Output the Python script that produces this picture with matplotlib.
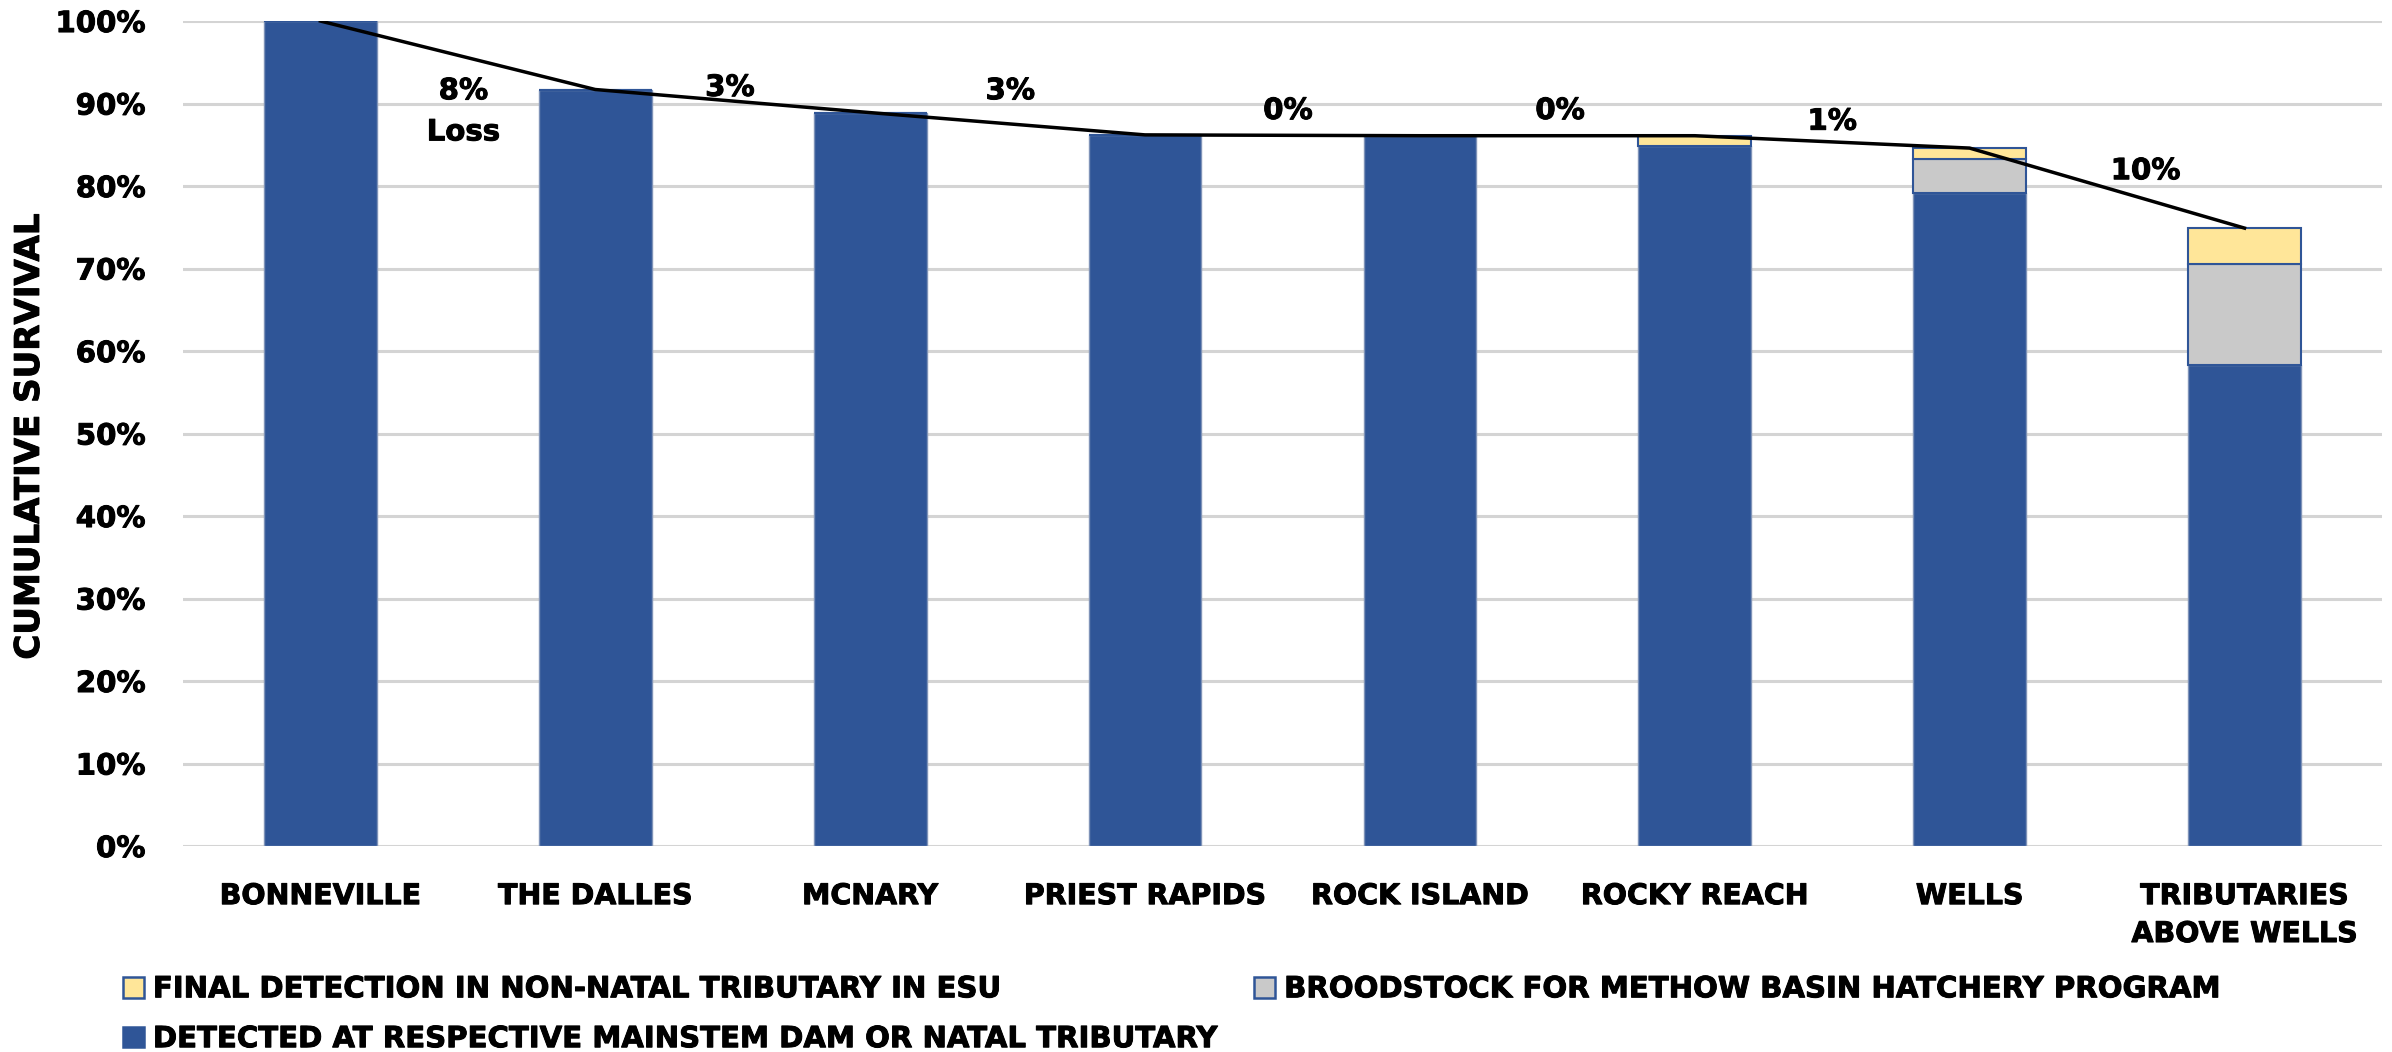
import matplotlib
matplotlib.use("Agg")
import matplotlib.pyplot as plt
import matplotlib.patheffects as pe
from matplotlib.ticker import PercentFormatter, MultipleLocator
from matplotlib.patches import Patch
import numpy as np

plt.rcParams['font.family'] = ['DejaVu Sans']
plt.rcParams['font.weight'] = 'bold'

# Detection sites along the migration route
sites = ["BONNEVILLE", "THE DALLES", "MCNARY", "PRIEST RAPIDS", "ROCK ISLAND",
         "ROCKY REACH", "WELLS", "TRIBUTARIES\nABOVE WELLS"]

# Cumulative survival components (%)
detected = [100.0, 91.7, 88.9, 86.2, 86.1, 84.8, 79.2, 58.3]
broodstock = [0.0, 0.0, 0.0, 0.0, 0.0, 0.0, 4.1, 12.3]
non_natal = [0.0, 0.0, 0.0, 0.0, 0.0, 1.3, 1.3, 4.3]

# Loss between consecutive sites
loss_labels = ["8%\nLoss", "3%", "3%", "0%", "0%", "1%", "10%"]
loss_label_pos = [(0.52, 89.0), (1.49, 91.9), (2.51, 91.5), (3.52, 89.1),
                  (4.51, 89.1), (5.50, 87.8), (6.64, 81.8)]

c_blue = "#2F5597"
c_gray = "#C9C9C9"
c_yellow = "#FFE699"

# slightly heavier glyphs for all labels
heavy = [pe.withStroke(linewidth=0.7, foreground="black")]

fig = plt.figure(figsize=(23.92, 10.52), dpi=100)
ax = fig.add_axes([0.0765, 0.1958, 0.9193, 0.7842])

x = np.arange(len(sites))
det = np.array(detected)
brd = np.array(broodstock)
nn = np.array(non_natal)
total = det + brd + nn
width = 0.41

ax.bar(x, det, width, color=c_blue, edgecolor="#7F93B8", linewidth=1.0, zorder=3)
ax.bar(x, brd, width, bottom=det, color=c_gray, edgecolor=c_blue, linewidth=1.5, zorder=3)
ax.bar(x, nn, width, bottom=det + brd, color=c_yellow, edgecolor=c_blue, linewidth=1.5, zorder=3)

ax.plot(x, total, color="black", linewidth=2.5, zorder=4)

for lbl, (px, py) in zip(loss_labels, loss_label_pos):
    ax.text(px, py, lbl, ha="center", va="center", fontsize=21, fontweight="bold",
            linespacing=1.6, zorder=5, path_effects=heavy)

ax.set_xlim(-0.5, len(sites) - 0.5)
ax.set_ylim(0, 100)
ax.yaxis.set_major_locator(MultipleLocator(10))
ax.yaxis.set_major_formatter(PercentFormatter(xmax=100, decimals=0))
ax.grid(axis="y", color="#D4D4D4", linewidth=2.2, zorder=0)
ax.set_axisbelow(True)
for s in ax.spines.values():
    s.set_visible(False)
ax.tick_params(axis="both", length=0)
ax.tick_params(axis="y", pad=27, labelsize=21)
ax.tick_params(axis="x", pad=26, labelsize=20.5)
ax.set_xticks(x)
ax.set_xticklabels(sites, fontweight="bold", linespacing=1.45)
for t in ax.get_yticklabels() + ax.get_xticklabels():
    t.set_fontweight("bold")
    t.set_path_effects(heavy)

fig.text(0.0123, 0.585, "CUMULATIVE SURVIVAL", rotation=90, ha="center", va="center",
         fontsize=24.5, fontweight="bold", path_effects=heavy)

handles = [
    Patch(facecolor=c_yellow, edgecolor=c_blue, linewidth=1.8,
          label="FINAL DETECTION IN NON-NATAL TRIBUTARY IN ESU"),
    Patch(facecolor=c_blue, edgecolor=c_blue, linewidth=1.8,
          label="DETECTED AT RESPECTIVE MAINSTEM DAM OR NATAL TRIBUTARY"),
    Patch(facecolor=c_gray, edgecolor=c_blue, linewidth=1.8,
          label="BROODSTOCK FOR METHOW BASIN HATCHERY PROGRAM"),
]
leg = fig.legend(handles=handles, ncol=2, loc="upper left", bbox_to_anchor=(0.0466, 0.084),
                 frameon=False, fontsize=21, handlelength=0.72, handleheight=0.72,
                 handletextpad=0.3, columnspacing=1.35, labelspacing=0.75,
                 borderaxespad=0.0)
for t in leg.get_texts():
    t.set_fontweight("bold")
    t.set_path_effects(heavy)

fig.savefig("out.png", dpi=100)
